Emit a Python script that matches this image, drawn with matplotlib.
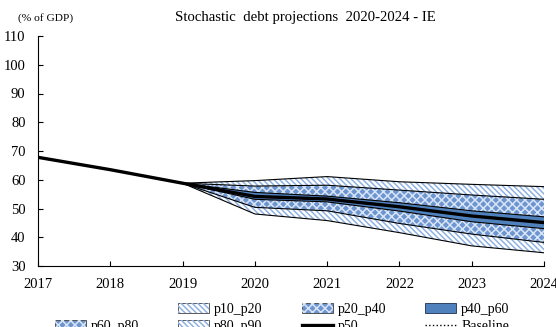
import matplotlib.pyplot as plt
from matplotlib.patches import Patch
from matplotlib.lines import Line2D

plt.rcParams['font.family'] = ['Liberation Serif', 'DejaVu Serif']
plt.rcParams['hatch.linewidth'] = 1.1

# Data
hist_years = [2017, 2018, 2019]
hist_debt = [67.8, 63.5, 58.8]

fan_years = [2019, 2020, 2021, 2022, 2023, 2024]
p10 = [58.8, 48.1, 45.8, 41.6, 37.0, 34.6]
p20 = [58.8, 50.4, 49.2, 44.8, 41.1, 38.2]
p40 = [58.8, 53.2, 52.3, 49.1, 45.4, 43.0]
p50 = [58.8, 54.2, 53.3, 50.6, 47.4, 45.1]
p60 = [58.8, 55.6, 54.3, 52.0, 49.2, 47.1]
p80 = [58.8, 57.8, 58.1, 56.4, 54.7, 53.2]
p90 = [58.8, 59.7, 61.1, 59.3, 58.4, 57.6]
baseline = [58.8, 54.2, 53.3, 50.6, 47.4, 45.1]

year_ticks = [2017, 2018, 2019, 2020, 2021, 2022, 2023, 2024]
y_ticks = [30, 40, 50, 60, 70, 80, 90, 100, 110]

# colours
hatch_blue = '#8fb2e3'
cross_face = '#6d95d0'
cross_hatch = '#d8e5f6'
mid_blue = '#4f81bd'

fig = plt.figure(figsize=(5.56, 3.27), dpi=100)
ax = fig.add_axes([38 / 556, 1 - 266 / 327, 506 / 556, 230 / 327])


def hatched_band(lo, hi, hatch, face, hcolor):
    ax.fill_between(fan_years, lo, hi, facecolor=face, linewidth=0, zorder=1)
    ax.fill_between(fan_years, lo, hi, facecolor='none', edgecolor=hcolor,
                    hatch=hatch, linewidth=0, zorder=2)


diag = '\\' * 6
hatched_band(p10, p20, diag, 'white', hatch_blue)
hatched_band(p80, p90, diag, 'white', hatch_blue)
hatched_band(p20, p40, 'xxxx', cross_face, cross_hatch)
hatched_band(p60, p80, 'xxxx', cross_face, cross_hatch)
ax.fill_between(fan_years, p40, p60, facecolor=mid_blue, linewidth=0, zorder=2)

for s in [p10, p20, p40, p60, p80, p90]:
    ax.plot(fan_years, s, color='black', linewidth=0.8, zorder=3)

ax.plot(fan_years, baseline, color='black', linestyle=':', linewidth=1, zorder=3)
ax.plot(hist_years + fan_years[1:], hist_debt + p50[1:], color='black',
        linewidth=2.4, zorder=4)

ax.set_xlim(2017, 2024)
ax.set_ylim(30, 110)
ax.set_xticks(year_ticks)
ax.set_yticks(y_ticks)
ax.tick_params(direction='in', length=3.5, width=0.8, labelsize=10.5)
ax.tick_params(axis='x', pad=9)
ax.tick_params(axis='y', pad=9)
for side in ['top', 'right']:
    ax.spines[side].set_visible(False)

fig.text(305 / 556, 1 - 18 / 327, 'Stochastic  debt projections  2020-2024 - IE',
         ha='center', va='center', fontsize=10.6)
fig.text(18 / 556, 1 - 18 / 327, '(% of GDP)', ha='left', va='center', fontsize=8.2)

blank = Patch(facecolor='none', edgecolor='none')
h_p10 = (Patch(facecolor='white', edgecolor='#404040', linewidth=0.6),
         Patch(facecolor='none', edgecolor=hatch_blue, hatch=diag, linewidth=0))
h_cross = (Patch(facecolor=cross_face, edgecolor='#404040', linewidth=0.6),
           Patch(facecolor='none', edgecolor=cross_hatch, hatch='xxxx', linewidth=0))
h_mid = Patch(facecolor=mid_blue, edgecolor='#203050', linewidth=0.6)
h_p50 = Line2D([], [], color='black', linewidth=2.4)
h_base = Line2D([], [], color='black', linestyle=':', linewidth=1)

handles = [blank, h_cross, h_p10, h_p10, h_cross, h_p50, h_mid, h_base]
labels = ['', 'p60_p80', 'p10_p20', 'p80_p90', 'p20_p40', 'p50', 'p40_p60', 'Baseline']
fig.legend(handles, labels, ncol=4, loc='upper left',
           bbox_to_anchor=(48 / 556, 1 - 296 / 327), frameon=False,
           fontsize=10, borderpad=0, handlelength=2.25, handleheight=0.75,
           handletextpad=0.35, columnspacing=2.8, labelspacing=0.3)

fig.savefig('out.png', dpi=100)
